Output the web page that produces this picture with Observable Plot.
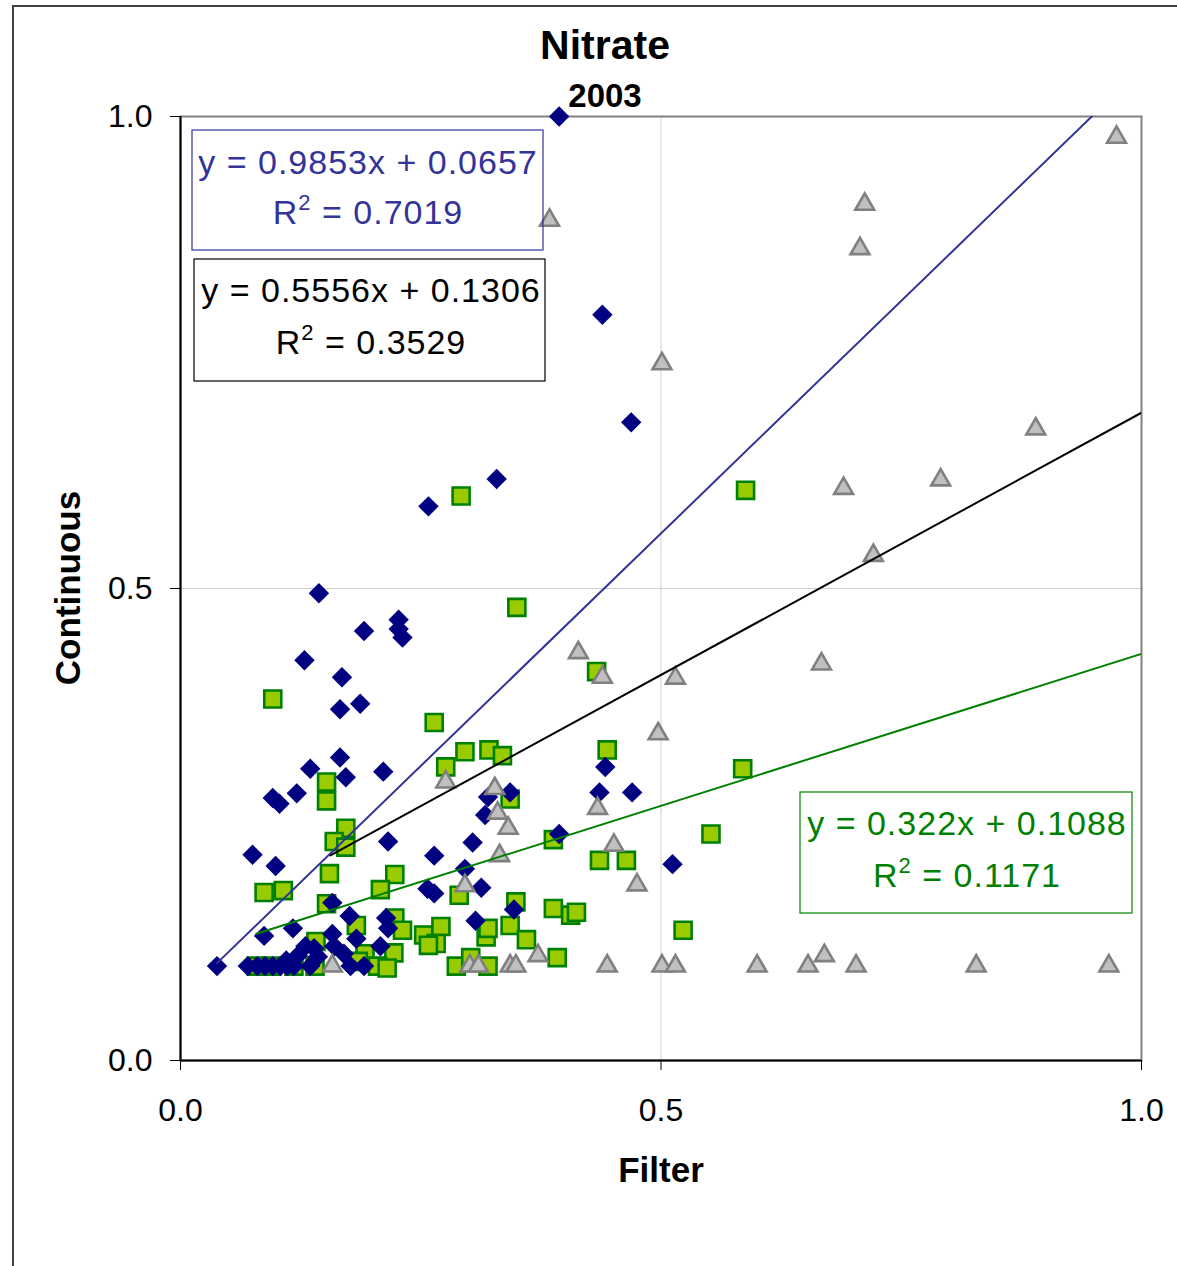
<!DOCTYPE html>
<html><head><meta charset="utf-8">
<script src="https://cdn.jsdelivr.net/npm/d3@7"></script>
<script src="https://cdn.jsdelivr.net/npm/@observablehq/plot@0.6"></script>
<style>
body{margin:0;background:#fff;}
#chart svg{display:block;}
</style>
</head><body><div id="chart"></div>
<script>
// Series 1: navy diamonds
const diamondX = [0.394,0.439,0.469,0.329,0.258,0.144,0.191,0.227,0.227,0.231,0.129,0.168,0.187,0.166,0.166,0.211,0.135,0.172,0.121,0.096,0.103,0.216,0.075,0.099,0.442,0.436,0.470,0.512,0.394,0.304,0.296,0.313,0.347,0.307,0.320,0.343,0.317,0.264,0.257,0.264,
  0.158,0.176,0.117,0.087,0.158,0.214,0.216,0.183,0.208,0.160,0.130,0.139,0.122,0.143,0.170,0.110,
  0.038,0.070,0.080,0.088,0.096,0.104,0.111,0.118,0.135,0.177,0.191];
const diamondY = [1.000,0.790,0.676,0.616,0.587,0.495,0.455,0.467,0.457,0.448,0.424,0.406,0.378,0.372,0.321,0.306,0.309,0.300,0.283,0.278,0.272,0.232,0.218,0.206,0.311,0.284,0.284,0.208,0.240,0.231,0.203,0.183,0.160,0.148,0.279,0.284,0.260,0.217,0.182,0.177,
  0.167,0.153,0.140,0.132,0.134,0.151,0.140,0.129,0.121,0.121,0.121,0.119,0.111,0.110,0.113,0.106,
  0.100,0.100,0.100,0.100,0.100,0.100,0.100,0.100,0.100,0.100,0.100];

// Series 2: green squares
const squareX = [0.292,0.588,0.350,0.096,0.433,0.264,0.296,0.321,0.335,0.444,0.276,0.585,0.152,0.152,0.343,0.172,0.160,0.172,0.388,0.552,0.436,0.464,0.155,0.223,0.087,0.107,0.208,0.290,0.349,0.152,0.388,0.406,0.412,0.183,0.223,0.231,0.253,0.271,0.266,0.258,0.318,0.320,0.343,0.360,0.523,0.141,0.192,0.222,0.205,0.215,0.287,0.302,0.320,0.392,0.079,0.095,0.118,0.140,0.185];
const squareY = [0.598,0.604,0.480,0.383,0.412,0.358,0.327,0.329,0.323,0.329,0.311,0.309,0.295,0.275,0.277,0.246,0.232,0.226,0.234,0.240,0.212,0.212,0.198,0.197,0.178,0.180,0.181,0.175,0.168,0.166,0.161,0.154,0.157,0.143,0.151,0.138,0.133,0.142,0.124,0.122,0.131,0.140,0.143,0.128,0.138,0.126,0.113,0.114,0.100,0.098,0.100,0.109,0.100,0.109,0.100,0.100,0.100,0.100,0.105];

// Series 3: grey triangles
const triangleX = [0.974,0.712,0.707,0.384,0.501,0.890,0.791,0.690,0.721,0.414,0.439,0.515,0.667,0.497,0.276,0.327,0.330,0.341,0.434,0.451,0.332,0.475,0.296,0.372,0.670,
  0.158,0.301,0.310,0.343,0.349,0.444,0.501,0.515,0.600,0.653,0.703,0.828,0.966];
const triangleY = [0.978,0.907,0.860,0.890,0.738,0.669,0.615,0.606,0.535,0.432,0.406,0.405,0.420,0.346,0.295,0.288,0.262,0.246,0.267,0.228,0.217,0.186,0.185,0.111,0.111,
  0.100,0.100,0.100,0.100,0.100,0.100,0.100,0.100,0.100,0.100,0.100,0.100,0.100];

// Trend lines (from the equations shown)
const trendSlope = [0.9853, 0.5556, 0.322];
const trendIntercept = [0.0657, 0.1306, 0.1088];
const trendR2 = ["0.7019", "0.3529", "0.1171"];
const trendEqText = ["y = 0.9853x + 0.0657", "y = 0.5556x + 0.1306", "y = 0.322x + 0.1088"];
const trendStartX = [0.038, 0.156, 0.079];
const trendEndX = [1, 1, 1];
const trendColor = ["#333399", "#000000", "#008000"];

// Axis ticks
const tickValues = [0, 0.5, 1];
const tickLabels = ["0.0", "0.5", "1.0"];

const toPts = (xs, ys) => xs.map((x, i) => ({x, y: ys[i]}));
const diamonds = toPts(diamondX, diamondY);
const squares = toPts(squareX, squareY);
const triangles = toPts(triangleX, triangleY);
const trendLines = trendSlope.map((m, i) => [trendStartX[i], trendEndX[i]].map(x => ({x, y: m * x + trendIntercept[i]})));

const FONT = "'Liberation Sans', Arial, sans-serif";

const plot = Plot.plot({
  width: 1177, height: 1266,
  marginLeft: 180, marginRight: 36, marginTop: 116, marginBottom: 206,
  x: {domain: [0, 1]},
  y: {domain: [0, 1]},
  style: {fontFamily: FONT, color: "#000", background: "#fff", overflow: "visible"},
  marks: [
    Plot.gridX([0.5], {stroke: "#cfcfcf", strokeOpacity: 1, strokeWidth: 1}),
    Plot.gridY([0.5], {stroke: "#cfcfcf", strokeOpacity: 1, strokeWidth: 1}),
    Plot.frame({stroke: "#808080", strokeWidth: 2}),
    Plot.ruleX([0], {stroke: "#000", strokeWidth: 2}),
    Plot.ruleY([0], {stroke: "#000", strokeWidth: 2}),
    Plot.axisX({ticks: tickValues, tickFormat: (d) => tickLabels[tickValues.indexOf(d)], tickSize: 10, tickPadding: 28, fontSize: 32, label: null, stroke: "#000"}),
    Plot.axisY({ticks: tickValues, tickFormat: (d) => tickLabels[tickValues.indexOf(d)], tickSize: 10, tickPadding: 18, fontSize: 32, label: null, stroke: "#000"}),
    Plot.dot(squares, {x: "x", y: "y", symbol: "square", r: 9.6, fill: "#99CC00", stroke: "#008000", strokeWidth: 2.6}),
    Plot.dot(diamonds, {x: "x", y: "y", symbol: "diamond2", r: 9.2, fill: "#000080", stroke: "none"}),
    Plot.dot(triangles, {x: "x", y: "y", symbol: "triangle", r: 7, fill: "#C0C0C0", stroke: "#808080", strokeWidth: 2.6}),
    ...trendLines.map((pts, i) => Plot.line(pts, {x: "x", y: "y", stroke: trendColor[i], strokeWidth: 2, clip: true}))
  ]
});

document.getElementById("chart").appendChild(plot);
const svg = d3.select(plot);

// outer chart border
svg.append("rect").attr("x", 13).attr("y", 6).attr("width", 1300).attr("height", 1400)
  .attr("fill", "none").attr("stroke", "#404040").attr("stroke-width", 2);

// Titles
svg.append("text").attr("x", 605).attr("y", 59).attr("text-anchor", "middle")
  .attr("font-family", FONT).attr("font-weight", "bold").attr("font-size", 41).text("Nitrate");
svg.append("text").attr("x", 605).attr("y", 107).attr("text-anchor", "middle")
  .attr("font-family", FONT).attr("font-weight", "bold").attr("font-size", 33).text("2003");
svg.append("text").attr("x", 661).attr("y", 1182).attr("text-anchor", "middle")
  .attr("font-family", FONT).attr("font-weight", "bold").attr("font-size", 35).text("Filter");
svg.append("text").attr("transform", "translate(80,588) rotate(-90)").attr("text-anchor", "middle")
  .attr("font-family", FONT).attr("font-weight", "bold").attr("font-size", 35).text("Continuous");

// Trendline label boxes
const boxes = [
  {x0: 192, y0: 130, x1: 543, y1: 250, cx: 368, l1: 174, l2: 224},
  {x0: 194, y0: 259, x1: 545, y1: 381, cx: 371, l1: 302, l2: 354},
  {x0: 800, y0: 792, x1: 1132, y1: 913, cx: 967, l1: 835, l2: 887}
];
const boxColor = ["#333399", "#000000", "#008000"];
boxes.forEach((b, i) => {
  const g = svg.append("g");
  g.append("rect").attr("x", b.x0).attr("y", b.y0).attr("width", b.x1 - b.x0).attr("height", b.y1 - b.y0)
    .attr("fill", "none").attr("stroke", boxColor[i]).attr("stroke-width", 1.2);
  g.append("text").attr("x", b.cx).attr("y", b.l1).attr("text-anchor", "middle")
    .attr("font-family", FONT).attr("font-size", 34).attr("letter-spacing", 1).attr("fill", trendColor[i]).text(trendEqText[i]);
  const t = g.append("text").attr("x", b.cx).attr("y", b.l2).attr("text-anchor", "middle")
    .attr("font-family", FONT).attr("font-size", 34).attr("letter-spacing", 1).attr("fill", trendColor[i]);
  t.append("tspan").text("R");
  t.append("tspan").attr("dy", -14).attr("font-size", 22).text("2");
  t.append("tspan").attr("dy", 14).text(" = " + trendR2[i]);
});
</script></body></html>
